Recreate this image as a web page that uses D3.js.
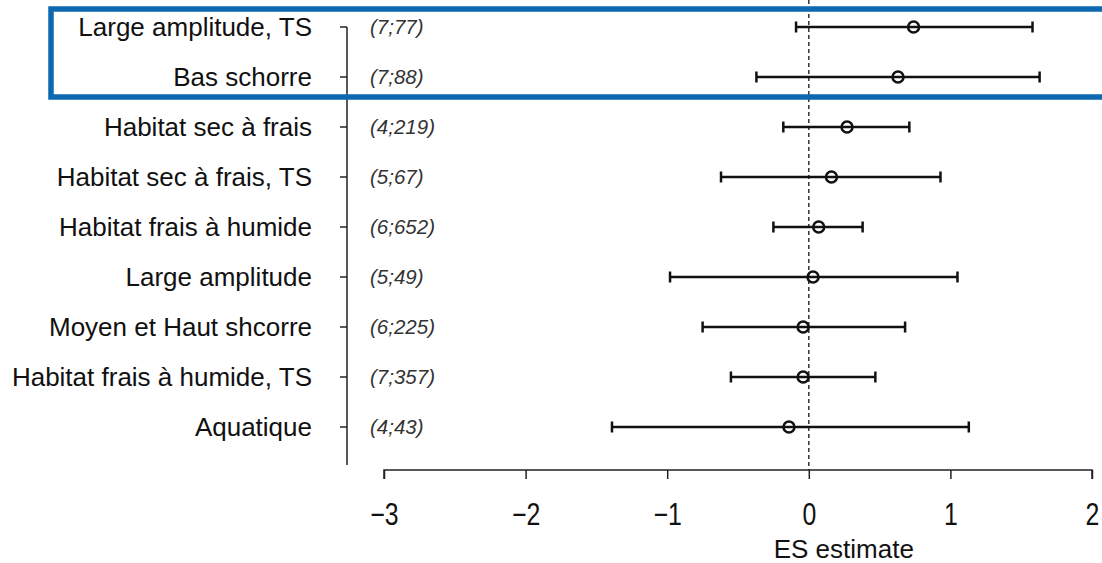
<!DOCTYPE html>
<html>
<head>
<meta charset="utf-8">
<script src="https://cdn.jsdelivr.net/npm/d3@7"></script>
<style>
  html, body { margin: 0; padding: 0; background: #fff; }
  svg { display: block; font-family: "Liberation Sans", Arial, sans-serif; }
</style>
</head>
<body>
<svg id="chart" width="1102" height="563"></svg>
<script>
// Habitat categories, top to bottom
const categories = [
  "Large amplitude, TS",
  "Bas schorre",
  "Habitat sec à frais",
  "Habitat sec à frais, TS",
  "Habitat frais à humide",
  "Large amplitude",
  "Moyen et Haut shcorre",
  "Habitat frais à humide, TS",
  "Aquatique"
];
// Effect-size estimates and confidence limits
const estimates = [0.74, 0.63, 0.27, 0.16, 0.07, 0.03, -0.04, -0.04, -0.14];
const lowerCI   = [-0.09, -0.37, -0.18, -0.62, -0.25, -0.98, -0.75, -0.55, -1.39];
const upperCI   = [1.58, 1.63, 0.71, 0.93, 0.38, 1.05, 0.68, 0.47, 1.13];
// (studies; observations) annotations
const counts = ["(7;77)", "(7;88)", "(4;219)", "(5;67)", "(6;652)", "(5;49)", "(6;225)", "(7;357)", "(4;43)"];
// X axis ticks
const xTicks = [-3, -2, -1, 0, 1, 2];
// Rows framed by the highlight box
const highlighted = ["Large amplitude, TS", "Bas schorre"];

const rows = categories.map((c, i) => ({
  cat: c, est: estimates[i], lo: lowerCI[i], hi: upperCI[i], n: counts[i]
}));

const svg = d3.select("#chart");

const x = d3.scaleLinear().domain([-3, 2]).range([384, 1092]);
const y = d3.scalePoint().domain(categories).range([27, 427]);

// Left axis line and ticks
const yAxisX = 347;
svg.append("line")
  .attr("x1", yAxisX).attr("x2", yAxisX)
  .attr("y1", y(categories[0])).attr("y2", 465)
  .attr("stroke", "#222").attr("stroke-width", 1.5);

svg.append("g").selectAll("line.ytick").data(categories).join("line")
  .attr("class", "ytick")
  .attr("x1", yAxisX - 7).attr("x2", yAxisX)
  .attr("y1", d => y(d)).attr("y2", d => y(d))
  .attr("stroke", "#222").attr("stroke-width", 1.5);

// Category labels
svg.append("g").selectAll("text.cat").data(rows).join("text")
  .attr("class", "cat")
  .attr("x", 312)
  .attr("y", d => y(d.cat) + 9.3)
  .attr("text-anchor", "end")
  .attr("font-size", 26)
  .attr("fill", "#111")
  .text(d => d.cat);

// Count annotations
svg.append("g").selectAll("text.cnt").data(rows).join("text")
  .attr("class", "cnt")
  .attr("x", 370)
  .attr("y", d => y(d.cat) + 7)
  .attr("font-size", 20.5)
  .attr("font-style", "italic")
  .attr("fill", "#333")
  .text(d => d.n);

// Reference line at zero
svg.append("line")
  .attr("x1", x(0)).attr("x2", x(0))
  .attr("y1", 0).attr("y2", 470)
  .attr("stroke", "#333").attr("stroke-width", 1.5)
  .attr("stroke-dasharray", "4,3");

// Bottom axis
const xAxis = d3.axisBottom(x).tickValues(xTicks).tickSize(9).tickPadding(0)
  .tickFormat(d => d < 0 ? "\u2212" + Math.abs(d) : String(d));
const gx = svg.append("g").attr("transform", "translate(0,470)").call(xAxis);
gx.select(".domain").attr("stroke", "#222").attr("stroke-width", 1.5)
  .attr("d", `M${x(-3)},9V0H${x(2)}V9`);
gx.selectAll(".tick line").attr("stroke", "#222").attr("stroke-width", 1.5);
// tick labels are set in a condensed face
gx.selectAll(".tick text")
  .attr("font-size", 31)
  .attr("font-family", "\"Liberation Sans\", Arial, sans-serif")
  .attr("fill", "#111")
  .attr("y", null).attr("dy", null)
  .attr("transform", "translate(0,55) scale(0.8,1)");

svg.append("text")
  .attr("x", x(0) + 35)
  .attr("y", 558)
  .attr("text-anchor", "middle")
  .attr("font-size", 26)
  .attr("fill", "#111")
  .text("ES estimate");

// Confidence intervals
const ci = svg.append("g").attr("stroke", "#111").attr("stroke-width", 2.5).attr("fill", "none");
ci.selectAll("line.ci").data(rows).join("line")
  .attr("class", "ci")
  .attr("x1", d => x(d.lo)).attr("x2", d => x(d.hi))
  .attr("y1", d => y(d.cat)).attr("y2", d => y(d.cat));
ci.selectAll("line.capl").data(rows).join("line")
  .attr("class", "capl")
  .attr("x1", d => x(d.lo)).attr("x2", d => x(d.lo))
  .attr("y1", d => y(d.cat) - 5.5).attr("y2", d => y(d.cat) + 5.5);
ci.selectAll("line.caph").data(rows).join("line")
  .attr("class", "caph")
  .attr("x1", d => x(d.hi)).attr("x2", d => x(d.hi))
  .attr("y1", d => y(d.cat) - 5.5).attr("y2", d => y(d.cat) + 5.5);

// Point estimates
svg.append("g").selectAll("circle").data(rows).join("circle")
  .attr("cx", d => x(d.est))
  .attr("cy", d => y(d.cat))
  .attr("r", 5.5)
  .attr("fill", "none")
  .attr("stroke", "#111")
  .attr("stroke-width", 2.5);

// Highlight frame around the top rows
const hTop = y(highlighted[0]) - 18;
const hBot = y(highlighted[highlighted.length - 1]) + 20;
svg.append("rect")
  .attr("x", 51).attr("y", hTop)
  .attr("width", 1102 - 51 + 10).attr("height", hBot - hTop)
  .attr("fill", "none")
  .attr("stroke", "#0b68b1")
  .attr("stroke-width", 5.5);
</script>
</body>
</html>
